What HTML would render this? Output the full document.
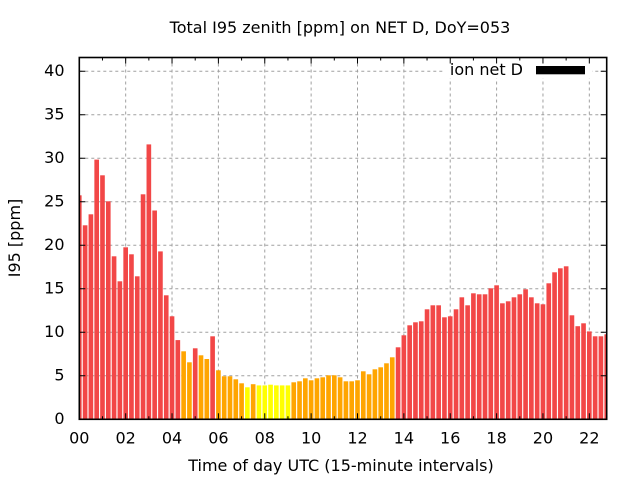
<!DOCTYPE html>
<html><head><meta charset="utf-8"><style>
html,body{margin:0;padding:0;background:#fff;}
svg{display:block;}
text{font-family:"DejaVu Sans","Liberation Sans",sans-serif;font-size:16px;fill:#000;}
</style></head><body>
<svg width="640" height="480" viewBox="0 0 640 480" xmlns="http://www.w3.org/2000/svg">
<defs><clipPath id="pa"><rect x="79.3" y="57.5" width="527.4" height="361.8"/></clipPath></defs>
<rect width="640" height="480" fill="#fff"/>
<g stroke="#a0a0a0" stroke-width="1" stroke-dasharray="3,3" fill="none">
<path d="M79.3 375.8H606.7M79.3 332.3H606.7M79.3 288.8H606.7M79.3 245.3H606.7M79.3 201.8H606.7M79.3 158.3H606.7M79.3 114.8H606.7M79.3 71.3H606.7"/>
<path d="M125.67 57.5V419.3M172.03 57.5V419.3M218.4 57.5V419.3M264.76 57.5V419.3M311.13 57.5V419.3M357.5 57.5V419.3M403.86 57.5V419.3M450.23 57.5V419.3M496.59 57.5V419.3M542.96 57.5V419.3M589.33 57.5V419.3"/>
</g>
<g clip-path="url(#pa)">
<g fill="#f24747">
<rect x="76.98" y="195.3" width="4.64" height="224"/>
<rect x="82.78" y="225.3" width="4.64" height="194"/>
<rect x="88.57" y="214.3" width="4.64" height="205"/>
<rect x="94.37" y="159.6" width="4.64" height="259.7"/>
<rect x="100.16" y="175.3" width="4.64" height="244"/>
<rect x="105.96" y="201.3" width="4.64" height="218"/>
<rect x="111.75" y="256.3" width="4.64" height="163"/>
<rect x="117.55" y="281.3" width="4.64" height="138"/>
<rect x="123.35" y="247.3" width="4.64" height="172"/>
<rect x="129.14" y="254.3" width="4.64" height="165"/>
<rect x="134.94" y="276.3" width="4.64" height="143"/>
<rect x="140.73" y="194.3" width="4.64" height="225"/>
<rect x="146.53" y="144.4" width="4.64" height="274.9"/>
<rect x="152.32" y="210.5" width="4.64" height="208.8"/>
<rect x="158.12" y="251.4" width="4.64" height="167.9"/>
<rect x="163.92" y="295.3" width="4.64" height="124"/>
<rect x="169.71" y="316.3" width="4.64" height="103"/>
<rect x="175.51" y="340.1" width="4.64" height="79.2"/>
<rect x="192.9" y="348.3" width="4.64" height="71"/>
<rect x="210.28" y="336.3" width="4.64" height="83"/>
<rect x="395.75" y="347.3" width="4.64" height="72"/>
<rect x="401.54" y="335.3" width="4.64" height="84"/>
<rect x="407.34" y="325.3" width="4.64" height="94"/>
<rect x="413.14" y="322.3" width="4.64" height="97"/>
<rect x="418.93" y="321.3" width="4.64" height="98"/>
<rect x="424.73" y="309.3" width="4.64" height="110"/>
<rect x="430.52" y="305.3" width="4.64" height="114"/>
<rect x="436.32" y="305.3" width="4.64" height="114"/>
<rect x="442.12" y="317.3" width="4.64" height="102"/>
<rect x="447.91" y="316.3" width="4.64" height="103"/>
<rect x="453.71" y="309.3" width="4.64" height="110"/>
<rect x="459.5" y="297.3" width="4.64" height="122"/>
<rect x="465.3" y="305.3" width="4.64" height="114"/>
<rect x="471.09" y="293.3" width="4.64" height="126"/>
<rect x="476.89" y="294.3" width="4.64" height="125"/>
<rect x="482.69" y="294.3" width="4.64" height="125"/>
<rect x="488.48" y="288.3" width="4.64" height="131"/>
<rect x="494.28" y="285.3" width="4.64" height="134"/>
<rect x="500.07" y="303.3" width="4.64" height="116"/>
<rect x="505.87" y="301.3" width="4.64" height="118"/>
<rect x="511.67" y="297.3" width="4.64" height="122"/>
<rect x="517.46" y="294.3" width="4.64" height="125"/>
<rect x="523.26" y="289.3" width="4.64" height="130"/>
<rect x="529.05" y="297.3" width="4.64" height="122"/>
<rect x="534.85" y="303.3" width="4.64" height="116"/>
<rect x="540.64" y="304.3" width="4.64" height="115"/>
<rect x="546.44" y="283.3" width="4.64" height="136"/>
<rect x="552.24" y="272.3" width="4.64" height="147"/>
<rect x="558.03" y="268.3" width="4.64" height="151"/>
<rect x="563.83" y="266.3" width="4.64" height="153"/>
<rect x="569.62" y="315.3" width="4.64" height="104"/>
<rect x="575.42" y="326.2" width="4.64" height="93.1"/>
<rect x="581.22" y="323.3" width="4.64" height="96"/>
<rect x="587.01" y="331.4" width="4.64" height="87.9"/>
<rect x="592.81" y="336.3" width="4.64" height="83"/>
<rect x="598.6" y="336.3" width="4.64" height="83"/>
<rect x="604.4" y="334.3" width="4.64" height="85"/>
</g>
<g fill="#ffa500">
<rect x="181.3" y="351.3" width="4.64" height="68"/>
<rect x="187.1" y="362.3" width="4.64" height="57"/>
<rect x="198.69" y="355.3" width="4.64" height="64"/>
<rect x="204.49" y="359" width="4.64" height="60.3"/>
<rect x="216.08" y="370.3" width="4.64" height="49"/>
<rect x="221.87" y="376.3" width="4.64" height="43"/>
<rect x="227.67" y="376.3" width="4.64" height="43"/>
<rect x="233.47" y="379.3" width="4.64" height="40"/>
<rect x="239.26" y="383.3" width="4.64" height="36"/>
<rect x="250.85" y="384.2" width="4.64" height="35.1"/>
<rect x="291.42" y="382.3" width="4.64" height="37"/>
<rect x="297.22" y="381.3" width="4.64" height="38"/>
<rect x="303.02" y="378.3" width="4.64" height="41"/>
<rect x="308.81" y="380.3" width="4.64" height="39"/>
<rect x="314.61" y="378.3" width="4.64" height="41"/>
<rect x="320.4" y="377.3" width="4.64" height="42"/>
<rect x="326.2" y="375.3" width="4.64" height="44"/>
<rect x="332" y="375.3" width="4.64" height="44"/>
<rect x="337.79" y="377.3" width="4.64" height="42"/>
<rect x="343.59" y="381.3" width="4.64" height="38"/>
<rect x="349.38" y="381.3" width="4.64" height="38"/>
<rect x="355.18" y="380.3" width="4.64" height="39"/>
<rect x="360.97" y="371.3" width="4.64" height="48"/>
<rect x="366.77" y="374.3" width="4.64" height="45"/>
<rect x="372.57" y="369.3" width="4.64" height="50"/>
<rect x="378.36" y="367.3" width="4.64" height="52"/>
<rect x="384.16" y="363.3" width="4.64" height="56"/>
<rect x="389.95" y="357.3" width="4.64" height="62"/>
</g>
<g fill="#ffff00">
<rect x="245.06" y="387.3" width="4.64" height="32"/>
<rect x="256.65" y="385.4" width="4.64" height="33.9"/>
<rect x="262.45" y="385.4" width="4.64" height="33.9"/>
<rect x="268.24" y="384.7" width="4.64" height="34.6"/>
<rect x="274.04" y="385.4" width="4.64" height="33.9"/>
<rect x="279.83" y="385.4" width="4.64" height="33.9"/>
<rect x="285.63" y="385.4" width="4.64" height="33.9"/>
</g>
</g>
<rect x="443" y="58.3" width="149" height="20" fill="#fff"/>
<text x="523" y="75" text-anchor="end">ion net D</text>
<rect x="536" y="66" width="49" height="8.3" fill="#000"/>
<g stroke="#000" stroke-width="1" fill="none">
<path d="M79.3 375.8h6M79.3 332.3h6M79.3 288.8h6M79.3 245.3h6M79.3 201.8h6M79.3 158.3h6M79.3 114.8h6M79.3 71.3h6"/>
<path d="M606.7 375.8h-6M606.7 332.3h-6M606.7 288.8h-6M606.7 245.3h-6M606.7 201.8h-6M606.7 158.3h-6M606.7 114.8h-6M606.7 71.3h-6"/>
<path d="M125.67 419.3v-6M172.03 419.3v-6M218.4 419.3v-6M264.76 419.3v-6M311.13 419.3v-6M357.5 419.3v-6M403.86 419.3v-6M450.23 419.3v-6M496.59 419.3v-6M542.96 419.3v-6M589.33 419.3v-6"/>
<path d="M125.67 57.5v6M172.03 57.5v6M218.4 57.5v6M264.76 57.5v6M311.13 57.5v6M357.5 57.5v6M403.86 57.5v6M450.23 57.5v6M496.59 57.5v6M542.96 57.5v6M589.33 57.5v6"/>
<path d="M102.48 419.3v-3M148.85 419.3v-3M195.21 419.3v-3M241.58 419.3v-3M287.95 419.3v-3M334.31 419.3v-3M380.68 419.3v-3M427.04 419.3v-3M473.41 419.3v-3M519.78 419.3v-3M566.14 419.3v-3"/>
<path d="M102.48 57.5v3M148.85 57.5v3M195.21 57.5v3M241.58 57.5v3M287.95 57.5v3M334.31 57.5v3M380.68 57.5v3M427.04 57.5v3M473.41 57.5v3M519.78 57.5v3M566.14 57.5v3"/>
</g>
<rect x="79.3" y="57.5" width="527.4" height="361.8" fill="none" stroke="#000" stroke-width="1.6"/>
<g text-anchor="end">
<text x="64.5" y="424.1">0</text>
<text x="64.5" y="380.6">5</text>
<text x="64.5" y="337.1">10</text>
<text x="64.5" y="293.6">15</text>
<text x="64.5" y="250.1">20</text>
<text x="64.5" y="206.6">25</text>
<text x="64.5" y="163.1">30</text>
<text x="64.5" y="119.6">35</text>
<text x="64.5" y="76.1">40</text>
</g>
<g text-anchor="middle">
<text x="79.3" y="443.5">00</text>
<text x="125.67" y="443.5">02</text>
<text x="172.03" y="443.5">04</text>
<text x="218.4" y="443.5">06</text>
<text x="264.76" y="443.5">08</text>
<text x="311.13" y="443.5">10</text>
<text x="357.5" y="443.5">12</text>
<text x="403.86" y="443.5">14</text>
<text x="450.23" y="443.5">16</text>
<text x="496.59" y="443.5">18</text>
<text x="542.96" y="443.5">20</text>
<text x="589.33" y="443.5">22</text>
</g>
<text x="340" y="33" text-anchor="middle">Total I95 zenith [ppm] on NET D, DoY=053</text>
<text x="341" y="471" text-anchor="middle">Time of day UTC (15-minute intervals)</text>
<text transform="translate(20,238) rotate(-90)" text-anchor="middle">I95 [ppm]</text>
</svg>
</body></html>
